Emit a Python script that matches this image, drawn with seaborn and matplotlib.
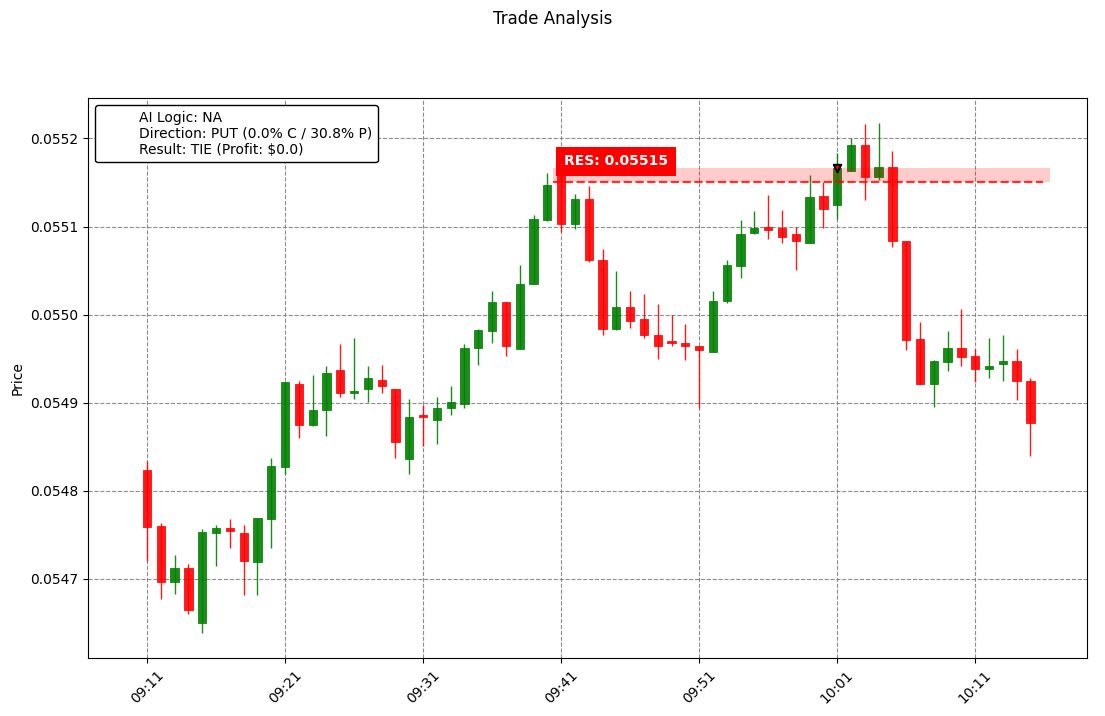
import numpy as np
import pandas as pd
import matplotlib
matplotlib.use("Agg")
import matplotlib.pyplot as plt
import matplotlib.dates as mdates
from matplotlib.lines import Line2D
from matplotlib.ticker import MultipleLocator, FormatStrFormatter
import seaborn as sns

# candles, one per minute from 09:11
start_time = "2024-01-01 09:11"
opens = [0.054823, 0.054760, 0.054696, 0.054712, 0.054650, 0.054752, 0.054758, 0.054752, 0.054719, 0.054768,
         0.054827, 0.054921, 0.054875, 0.054892, 0.054937, 0.054911, 0.054915, 0.054926, 0.054915, 0.054836,
         0.054886, 0.054880, 0.054894, 0.054898, 0.054962, 0.054981, 0.055014, 0.054961, 0.055035, 0.055107,
         0.055162, 0.055103, 0.055131, 0.055062, 0.054984, 0.055009, 0.054995, 0.054977, 0.054970, 0.054968,
         0.054964, 0.054958, 0.055015, 0.055055, 0.055093, 0.055100, 0.055098, 0.055091, 0.055081, 0.055135,
         0.055125, 0.055163, 0.055192, 0.055156, 0.055168, 0.055083, 0.054972, 0.054921, 0.054946, 0.054962,
         0.054953, 0.054938, 0.054944, 0.054947, 0.054925]
highs = [0.054834, 0.054763, 0.054727, 0.054717, 0.054757, 0.054761, 0.054768, 0.054761, 0.054769, 0.054837,
         0.054923, 0.054925, 0.054931, 0.054942, 0.054967, 0.054973, 0.054942, 0.054943, 0.054915, 0.054904,
         0.054897, 0.054907, 0.054919, 0.054967, 0.054984, 0.055027, 0.055014, 0.055056, 0.055113, 0.055161,
         0.055170, 0.055137, 0.055146, 0.055074, 0.055050, 0.055027, 0.055023, 0.055012, 0.054999, 0.054989,
         0.054964, 0.055027, 0.055062, 0.055107, 0.055118, 0.055136, 0.055119, 0.055099, 0.055159, 0.055151,
         0.055183, 0.055200, 0.055216, 0.055217, 0.055186, 0.055083, 0.054992, 0.054949, 0.054981, 0.055006,
         0.054961, 0.054973, 0.054977, 0.054961, 0.054928]
lows = [0.054720, 0.054677, 0.054683, 0.054660, 0.054639, 0.054714, 0.054735, 0.054682, 0.054682, 0.054735,
        0.054819, 0.054860, 0.054873, 0.054862, 0.054906, 0.054904, 0.054901, 0.054911, 0.054837, 0.054819,
        0.054851, 0.054853, 0.054886, 0.054894, 0.054943, 0.054968, 0.054953, 0.054961, 0.055035, 0.055106,
        0.055094, 0.055097, 0.055060, 0.054977, 0.054982, 0.054985, 0.054973, 0.054950, 0.054964, 0.054949,
        0.054894, 0.054958, 0.055013, 0.055041, 0.055091, 0.055086, 0.055081, 0.055051, 0.055081, 0.055098,
        0.055109, 0.055163, 0.055130, 0.055153, 0.055077, 0.054960, 0.054921, 0.054895, 0.054936, 0.054942,
        0.054924, 0.054928, 0.054925, 0.054903, 0.054839]
closes = [0.054759, 0.054696, 0.054712, 0.054665, 0.054753, 0.054758, 0.054754, 0.054720, 0.054769, 0.054828,
          0.054923, 0.054875, 0.054892, 0.054934, 0.054911, 0.054913, 0.054928, 0.054919, 0.054855, 0.054884,
          0.054884, 0.054894, 0.054901, 0.054962, 0.054982, 0.055014, 0.054964, 0.055035, 0.055108, 0.055147,
          0.055103, 0.055131, 0.055062, 0.054984, 0.055009, 0.054993, 0.054977, 0.054964, 0.054968, 0.054964,
          0.054960, 0.055015, 0.055056, 0.055091, 0.055098, 0.055096, 0.055088, 0.055084, 0.055134, 0.055120,
          0.055166, 0.055192, 0.055156, 0.055168, 0.055083, 0.054971, 0.054921, 0.054947, 0.054962, 0.054952,
          0.054938, 0.054942, 0.054947, 0.054925, 0.054877]

entry_index = 50
entry_price = 0.055166
res_price = 0.05515
info_lines = ["AI Logic: NA",
              "Direction: PUT (0.0% C / 30.8% P)",
              "Result: TIE (Profit: $0.0)"]

df = pd.DataFrame({"open": opens, "high": highs, "low": lows, "close": closes})
df["time"] = pd.date_range(start_time, periods=len(df), freq="min")
df["up"] = df["close"] >= df["open"]

one_min = 1 / 1440
x = mdates.date2num(df["time"])
colors = np.where(df["up"], "green", "red")

fig = plt.figure(figsize=(11.05, 7.16), dpi=100)
ax = fig.add_axes([0.0796, 0.081, 0.9041, 0.7821])

# wicks and bodies
ax.vlines(x, df["low"], df["high"], colors=colors, linewidth=1, alpha=0.9, zorder=3)
body_h = np.maximum((df["close"] - df["open"]).abs(), 0.0000015)
ax.bar(x, body_h, bottom=np.minimum(df["open"], df["close"]), width=0.6 * one_min,
       color=colors, edgecolor=colors, linewidth=0.6, alpha=0.9, zorder=3)

# resolution zone
x0 = x[0] + 29.4 * one_min
ax.fill_between([x0, x[0] + 65.4 * one_min], res_price, entry_price,
                color="red", alpha=0.2, linewidth=0, zorder=4)
ax.hlines(res_price, x0, x[0] + 64.9 * one_min, colors="red", linestyles="--",
          linewidth=1.6, alpha=0.8, zorder=4)
ax.text(x[30] + 0.2 * one_min, entry_price, f"RES: {res_price}", color="white", fontweight="bold",
        ha="left", va="bottom", zorder=6,
        bbox=dict(facecolor="red", edgecolor="none", pad=5.5))

# entry marker
entry_df = pd.DataFrame({"t": [x[entry_index]], "p": [entry_price]})
sns.scatterplot(data=entry_df, x="t", y="p", marker="v", color="red", edgecolor="black",
                linewidth=1.5, s=28, ax=ax, zorder=5, legend=False)

# info box
handle = Line2D([], [], linestyle="none", marker=None)
leg = ax.legend([handle], ["\n".join(info_lines)], loc="upper left", framealpha=1)
leg.get_frame().set_edgecolor("black")

ax.set_xlim(x[0] - 4.28 * one_min, x[0] + 68.1 * one_min)
ax.xaxis.set_major_locator(mdates.MinuteLocator(byminute=[1, 11, 21, 31, 41, 51]))
ax.xaxis.set_major_formatter(mdates.DateFormatter("%H:%M"))
ax.yaxis.set_major_locator(MultipleLocator(0.0001))
ax.yaxis.set_major_formatter(FormatStrFormatter("%.4f"))
plt.setp(ax.get_xticklabels(), rotation=45)
ax.grid(True, linestyle="--", color="gray", alpha=0.9, zorder=0)
ax.set_axisbelow(True)
ax.set_xlabel("")
ax.set_ylabel("Price")
fig.suptitle("Trade Analysis", y=0.986)

fig.savefig("out.png", dpi=100)
